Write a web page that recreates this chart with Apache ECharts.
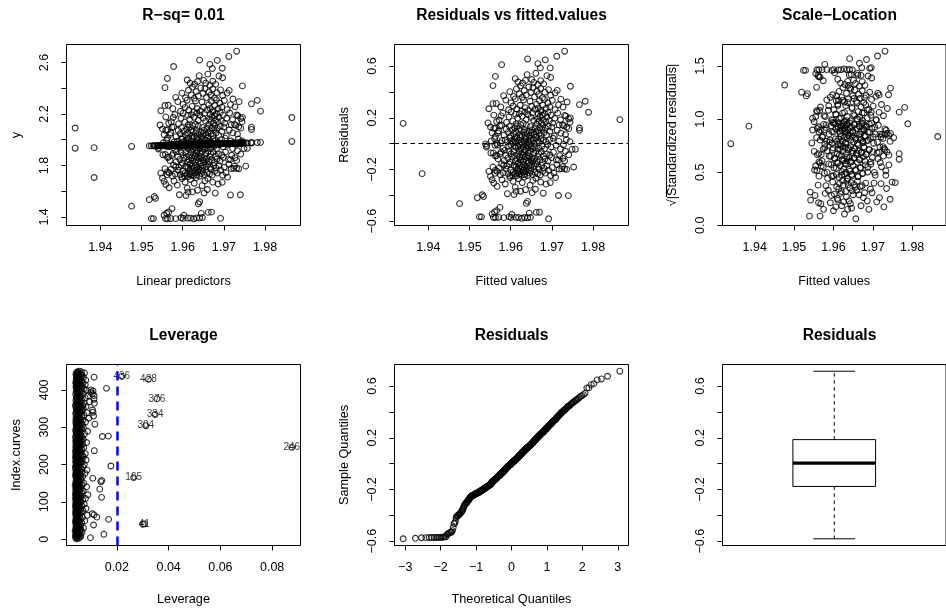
<!DOCTYPE html>
<html>
<head>
<meta charset="utf-8">
<script src="https://cdn.jsdelivr.net/npm/echarts@6/dist/echarts.min.js"></script>
<style>
  html, body { margin: 0; padding: 0; background: #fff; }
  #chart { width: 946px; height: 609px; }
</style>
</head>
<body>
<div id="chart"></div>
<script>
// Fitted values (linear predictors) of the model, one per observation
const fitted = [
  1.9524,1.9529,1.9558,1.9563,1.9571,1.9583,1.9596,1.9601,1.9612,1.9619,1.9627,1.9634,1.9641,1.9648,1.9692,
  1.9476,1.9555,1.9561,1.9566,1.9574,1.9638,1.9645,1.9662,1.9670,1.9603,
  1.9519,1.9531,1.9534,1.9641,1.9592,1.9608,1.9613,1.9624,1.9652,1.9679,1.9716,1.9740,1.9636,1.9660,
  1.9551,1.9555,1.9559,1.9567,1.9579,1.9587,1.9598,1.9606,1.9611,1.9619,1.9628,1.9633,1.9647,1.9654,1.9661,1.9673,1.9686,1.9696,1.9709,
  1.9547,1.9567,1.9575,1.9582,1.9589,1.9591,1.9594,1.9597,1.9600,1.9557,
  1.9604,1.9606,1.9608,1.9724,1.9611,1.9613,1.9614,1.9616,1.9617,1.9619,
  1.9620,1.9622,1.9623,1.9736,1.9626,1.9628,1.9629,1.9631,1.9632,1.9634,
  1.9635,1.9637,1.9638,1.9578,1.9641,1.9643,1.9644,1.9646,1.9648,1.9649,
  1.9651,1.9653,1.9731,1.9657,1.9659,1.9661,1.9563,1.9665,1.9667,1.9669,
  1.9672,1.9675,1.9678,1.9681,1.9684,1.9688,1.9692,1.9697,1.9701,1.9705,
  1.9712,1.9718,1.9726,1.9753,1.9583,1.9572,1.9562,1.9598,1.9618,1.9385,
  1.9552,1.9563,1.9569,1.9577,1.9584,1.9588,1.9593,1.9596,1.9599,1.9601,
  1.9603,1.9716,1.9607,1.9609,1.9612,1.9558,1.9615,1.9617,1.9619,1.9621,
  1.9622,1.9624,1.9626,1.9727,1.9629,1.9630,1.9632,1.9633,1.9635,1.9636,
  1.9638,1.9574,1.9641,1.9642,1.9644,1.9645,1.9647,1.9649,1.9741,1.9652,
  1.9654,1.9656,1.9658,1.9566,1.9662,1.9664,1.9666,1.9668,1.9671,1.9674,
  1.9677,1.9680,1.9683,1.9687,1.9691,1.9695,1.9699,1.9704,1.9711,1.9719,
  1.9733,1.9731,1.9585,
  1.9539,1.9542,1.9541,1.9749,1.9757,1.9553,1.9561,1.9568,1.9575,1.9581,
  1.9587,1.9592,1.9595,1.9598,1.9600,1.9602,1.9721,1.9606,1.9608,1.9610,
  1.9611,1.9613,1.9615,1.9566,1.9618,1.9620,1.9621,1.9623,1.9625,1.9626,
  1.9628,1.9735,1.9631,1.9633,1.9634,1.9636,1.9637,1.9639,1.9579,1.9642,
  1.9643,1.9645,1.9646,1.9648,1.9650,1.9744,1.9653,1.9655,1.9657,1.9659,
  1.9661,1.9562,1.9665,1.9668,1.9670,1.9673,1.9676,1.9679,1.9682,1.9686,
  1.9690,1.9694,1.9698,1.9703,1.9710,1.9717,1.9728,
  1.9551,1.9563,1.9555,1.9563,1.9733,1.9767,1.9767,1.9729,1.9571,1.9578,
  1.9584,1.9589,1.9594,1.9597,1.9600,1.9603,1.9718,1.9607,1.9610,1.9612,
  1.9614,1.9616,1.9569,1.9620,1.9622,1.9624,1.9626,1.9628,1.9736,1.9632,
  1.9634,1.9636,1.9638,1.9640,1.9559,1.9644,1.9646,1.9648,1.9650,1.9652,
  1.9726,1.9657,1.9659,1.9661,1.9663,1.9574,1.9667,1.9669,1.9671,1.9674,
  1.9676,1.9678,1.9681,1.9684,1.9687,1.9691,1.9695,1.9700,1.9706,1.9713,
  1.9722,1.9741,
  1.9339,1.9865,1.9545,1.9789,1.9745,1.9741,1.9559,1.9572,1.9581,1.9590,
  1.9596,1.9601,1.9605,1.9731,1.9613,1.9617,1.9621,1.9566,1.9628,1.9631,
  1.9635,1.9638,1.9642,1.9744,1.9649,1.9653,1.9656,1.9577,1.9663,1.9665,
  1.9667,1.9669,1.9671,1.9673,1.9675,1.9677,1.9679,1.9682,1.9685,1.9688,
  1.9691,1.9694,1.9698,1.9702,1.9707,1.9714,1.9721,1.9734,1.9612,
  1.9547,1.9557,1.9781,1.9767,1.9576,1.9588,1.9595,1.9601,1.9606,1.9611,
  1.9615,1.9737,1.9623,1.9627,1.9631,1.9635,1.9565,1.9643,1.9647,1.9651,
  1.9722,1.9659,1.9663,1.9667,1.9670,1.9674,1.9678,1.9682,1.9686,1.9690,
  1.9695,1.9701,1.9708,1.9716,1.9727,
  1.9557,1.9644,1.9692,1.9708,1.9745,1.9583,1.9598,1.9607,1.9614,1.9621,
  1.9628,1.9633,1.9638,1.9649,1.9654,1.9658,1.9664,1.9668,1.9673,1.9677,
  1.9683,1.9697,1.9713,1.9624,
  1.9618,1.9666,1.9640,1.9688,1.9563,1.9629,1.9651,1.9673,1.9697,1.9611,1.9656,1.9680,1.9636,1.9661,
  1.9578,1.9666,1.9672,1.9696,
  1.9641,1.9684,1.9712,1.9731
];

// Residuals (observed minus fitted), same order as fitted
const residuals = [
  -0.566,-0.566,-0.569,-0.571,-0.570,-0.572,-0.566,-0.571,-0.570,-0.571,-0.577,-0.571,-0.573,-0.570,-0.581,
  -0.464,-0.543,-0.528,-0.518,-0.493,-0.462,-0.537,-0.531,-0.530,-0.548,
  -0.418,-0.395,-0.409,-0.446,-0.387,-0.394,-0.369,-0.368,-0.379,-0.383,-0.401,-0.402,-0.356,-0.353,
  -0.253,-0.279,-0.304,-0.330,-0.279,-0.312,-0.262,-0.291,-0.338,-0.271,-0.301,-0.258,-0.322,-0.284,-0.267,-0.297,-0.313,-0.301,-0.262,
  -0.214,-0.214,-0.240,-0.225,-0.196,-0.172,-0.232,-0.158,-0.205,-0.181,
  -0.243,-0.219,-0.166,-0.195,-0.229,-0.176,-0.248,-0.208,-0.157,-0.187,
  -0.236,-0.213,-0.168,-0.199,-0.244,-0.183,-0.222,-0.161,-0.204,-0.238,
  -0.177,-0.215,-0.192,-0.155,-0.247,-0.201,-0.172,-0.228,-0.186,-0.211,
  -0.163,-0.239,-0.195,-0.174,-0.221,-0.158,-0.206,-0.233,-0.181,-0.197,
  -0.242,-0.168,-0.214,-0.189,-0.228,-0.171,-0.205,-0.246,-0.184,-0.227,
  -0.162,-0.196,-0.178,-0.181,-0.167,-0.187,-0.229,-0.249,-0.224,-0.232,
  -0.072,-0.095,-0.118,-0.064,-0.131,-0.089,-0.112,-0.057,-0.141,-0.078,
  -0.104,-0.126,-0.061,-0.093,-0.137,-0.071,-0.116,-0.084,-0.148,-0.059,
  -0.102,-0.129,-0.075,-0.113,-0.091,-0.143,-0.066,-0.121,-0.098,-0.052,
  -0.134,-0.081,-0.109,-0.069,-0.146,-0.094,-0.058,-0.123,-0.086,-0.107,
  -0.139,-0.073,-0.118,-0.092,-0.056,-0.131,-0.101,-0.077,-0.124,-0.063,
  -0.145,-0.097,-0.118,-0.079,-0.135,-0.088,-0.108,-0.066,-0.124,-0.093,
  -0.059,-0.134,-0.052,
  -0.002,-0.015,-0.026,-0.044,-0.043,0.021,0.038,-0.011,0.006,-0.037,
  0.029,0.012,-0.021,0.044,-0.005,0.023,-0.041,0.008,0.035,-0.017,
  0.015,-0.031,0.041,0.002,-0.024,0.027,-0.009,0.047,-0.038,0.013,
  -0.003,0.032,-0.027,0.019,-0.046,0.006,0.039,-0.014,0.024,-0.033,
  0.011,0.043,-0.007,0.028,-0.022,0.016,-0.039,0.034,0.001,-0.029,
  0.046,-0.012,0.022,-0.035,0.009,0.037,-0.018,0.025,-0.042,0.014,
  -0.006,0.031,-0.025,0.042,-0.013,0.018,-0.008,
  0.129,0.121,0.083,0.057,0.070,0.121,0.103,0.139,0.098,0.142,
  0.066,0.113,0.087,0.134,0.058,0.106,0.145,0.077,0.121,0.092,
  0.054,0.137,0.083,0.114,0.068,0.148,0.099,0.062,0.127,0.088,
  0.109,0.051,0.141,0.074,0.118,0.096,0.061,0.131,0.084,0.107,
  0.146,0.071,0.123,0.093,0.056,0.138,0.102,0.079,0.126,0.064,
  0.111,0.143,0.086,0.119,0.067,0.135,0.095,0.128,0.059,0.104,
  0.081,0.116,
  0.157,0.186,0.160,0.243,0.199,0.191,0.221,0.183,0.238,0.164,
  0.207,0.246,0.176,0.219,0.153,0.198,0.232,0.171,0.212,0.157,
  0.244,0.188,0.226,0.166,0.203,0.239,0.179,0.215,0.152,0.194,
  0.229,0.173,0.208,0.247,0.161,0.219,0.186,0.234,0.168,0.205,
  0.242,0.177,0.221,0.159,0.196,0.236,0.184,0.213,0.228,
  0.270,0.310,0.328,0.302,0.284,0.337,0.262,0.315,0.291,0.346,
  0.268,0.322,0.297,0.253,0.338,0.279,0.311,0.257,0.328,0.289,
  0.344,0.266,0.305,0.276,0.331,0.259,0.298,0.342,0.272,0.316,
  0.285,0.335,0.263,0.301,0.283,
  0.449,0.438,0.418,0.392,0.444,0.371,0.402,0.365,0.423,0.386,
  0.359,0.411,0.377,0.396,0.432,0.362,0.405,0.381,0.427,0.356,
  0.398,0.374,0.412,0.447,
  0.477,0.457,0.534,0.526,0.520,0.468,0.496,0.487,0.512,0.503,0.474,0.462,0.489,0.544,
  0.611,0.619,0.586,0.586,
  0.655,0.648,0.676,0.715
];

// Hat values (leverage) by observation index 1..450
const leverage = [
  .0045,.0052,.0041,.0098,.0057,.0043,.0049,.0061,.0040,.0047,
  .0054,.0044,.0150,.0048,.0059,.0042,.0051,.0046,.0066,.0043,
  .0050,.0039,.0056,.0045,.0062,.0048,.0041,.0053,.0047,.0071,
  .0044,.0058,.0049,.0042,.0055,.0046,.0060,.0110,.0043,.0300,
  .0306,.0051,.0045,.0064,.0040,.0049,.0057,.0043,.0076,.0047,
  .0053,.0041,.0168,.0048,.0059,.0044,.0050,.0067,.0123,.0046,
  .0055,.0042,.0049,.0086,.0112,.0045,.0052,.0105,.0040,.0058,
  .0047,.0063,.0043,.0051,.0046,.0069,.0041,.0054,.0048,.0060,
  .0044,.0081,.0050,.0042,.0057,.0046,.0053,.0040,.0065,.0049,
  .0043,.0056,.0047,.0074,.0041,.0052,.0045,.0061,.0048,.0054,
  .0042,.0059,.0046,.0050,.0068,.0044,.0055,.0040,.0079,.0048,
  .0053,.0141,.0045,.0062,.0041,.0049,.0057,.0043,.0088,.0047,
  .0051,.0040,.0058,.0046,.0064,.0043,.0052,.0048,.0070,.0044,
  .0055,.0041,.0049,.0134,.0046,.0060,.0042,.0053,.0047,.0083,
  .0044,.0056,.0050,.0039,.0066,.0048,.0043,.0058,.0045,.0072,
  .0052,.0041,.0049,.0138,.0046,.0055,.0142,.0063,.0043,.0050,
  .0047,.0059,.0107,.0044,.0265,.0054,.0041,.0068,.0048,.0052,
  .0045,.0061,.0040,.0056,.0049,.0077,.0043,.0053,.0046,.0064,
  .0050,.0042,.0058,.0047,.0085,.0044,.0055,.0041,.0062,.0048,
  .0053,.0045,.0069,.0040,.0051,.0177,.0046,.0057,.0043,.0074,
  .0049,.0044,.0060,.0047,.0054,.0041,.0066,.0050,.0045,.0058,
  .0042,.0081,.0048,.0053,.0044,.0063,.0046,.0056,.0040,.0071,
  .0051,.0045,.0059,.0043,.0067,.0049,.0054,.0041,.0078,.0047,
  .0056,.0044,.0062,.0048,.0052,.0040,.0113,.0058,.0045,.0065,
  .0050,.0043,.0057,.0046,.0072,.0876,.0041,.0055,.0048,.0061,
  .0044,.0053,.0047,.0068,.0042,.0058,.0050,.0045,.0083,.0049,
  .0054,.0041,.0063,.0046,.0057,.0043,.0070,.0051,.0048,.0060,
  .0045,.0055,.0040,.0066,.0144,.0167,.0049,.0059,.0043,.0052,
  .0047,.0075,.0044,.0056,.0050,.0062,.0042,.0053,.0087,.0046,
  .0058,.0041,.0049,.0064,.0045,.0054,.0048,.0071,.0043,.0060,
  .0051,.0046,.0057,.0312,.0044,.0067,.0050,.0115,.0042,.0055,
  .0048,.0063,.0045,.0079,.0052,.0041,.0058,.0047,.0069,.0053,
  .0044,.0060,.0049,.0092,.0042,.0056,.0046,.0065,.0051,.0110,
  .0045,.0073,.0048,.0348,.0054,.0041,.0061,.0050,.0084,.0108,
  .0043,.0057,.0047,.0066,.0052,.0106,.0044,.0059,.0049,.0070,
  .0055,.0042,.0063,.0046,.0081,.0051,.0045,.0068,.0040,.0058,
  .0048,.0053,.0074,.0113,.0044,.0060,.0050,.0095,.0046,.0057,
  .0042,.0065,.0052,.0047,.0112,.0355,.0055,.0043,.0077,.0049,
  .0061,.0045,.0054,.0088,.0112,.0048,.0058,.0041,.0070,.0106,
  .0051,.0046,.0099,.0056,.0043,.0064,.0108,.0049,.0082,.0100,
  .0053,.0044,.0073,.0160,.0047,.0059,.0042,.0067,.0050,.0056,
  .0045,.0062,.0048,.0078,.0043,.0054,.0046,.0069,.0051,.0041,
  .0057,.0047,.0065,.0044,.0052,.0080,.0049,.0322,.0055,.0043,
  .0061,.0046,.0071,.0112,.0050,.0219,.0058,.0044,.0066,.0048,
  .0053,.0042,.0060,.0047,.0075,.0051,.0045,.0063,.0049,.0056
];

// Observations annotated on the leverage plot, and the leverage cut-off
const leverageLabels = [41, 165, 246, 304, 334, 376, 428, 436];
const leverageCutoff = 0.0207;

// Residual standard error and R-squared of the fit
const residualSE = 0.266;
const rSquared = 0.01;

// Axis ticks and the subset of ticks that carry a label
const fittedTicks = [1.94, 1.95, 1.96, 1.97, 1.98];
const yTicks = [1.4, 1.6, 1.8, 2.0, 2.2, 2.4, 2.6];
const yTickLabels = [1.4, 1.8, 2.2, 2.6];
const residTicks = [-0.6, -0.4, -0.2, 0, 0.2, 0.4, 0.6];
const residTickLabels = [-0.6, -0.2, 0.2, 0.6];
const rootTicks = [0, 0.5, 1, 1.5];
const leverageTicks = [0.02, 0.04, 0.06, 0.08];
const indexTicks = [0, 100, 200, 300, 400];
const quantileTicks = [-3, -2, -1, 0, 1, 2, 3];

const panelTitles = ['R\u2212sq= ' + rSquared.toFixed(2), 'Residuals vs fitted.values', 'Scale\u2212Location',
                     'Leverage', 'Residuals', 'Residuals'];

// ---------- derived quantities ----------
const FONT = '"Liberation Sans", Arial, Helvetica, sans-serif';
const n = fitted.length;

function qnorm(p) {
  const a = [-3.969683028665376e+01, 2.209460984245205e+02, -2.759285104469687e+02, 1.383577518672690e+02, -3.066479806614716e+01, 2.506628277459239e+00];
  const b = [-5.447609879822406e+01, 1.615858368580409e+02, -1.556989798598866e+02, 6.680131188771972e+01, -1.328068155288572e+01];
  const c = [-7.784894002430293e-03, -3.223964580411365e-01, -2.400758277161838e+00, -2.549732539343734e+00, 4.374664141464968e+00, 2.938163982698783e+00];
  const d = [7.784695709041462e-03, 3.224671290700398e-01, 2.445134137142996e+00, 3.754408661907416e+00];
  const lo = 0.02425;
  let q, r;
  if (p < lo) {
    q = Math.sqrt(-2 * Math.log(p));
    return (((((c[0]*q+c[1])*q+c[2])*q+c[3])*q+c[4])*q+c[5]) / ((((d[0]*q+d[1])*q+d[2])*q+d[3])*q+1);
  }
  if (p > 1 - lo) {
    q = Math.sqrt(-2 * Math.log(1 - p));
    return -(((((c[0]*q+c[1])*q+c[2])*q+c[3])*q+c[4])*q+c[5]) / ((((d[0]*q+d[1])*q+d[2])*q+d[3])*q+1);
  }
  q = p - 0.5; r = q * q;
  return (((((a[0]*r+a[1])*r+a[2])*r+a[3])*r+a[4])*r+a[5])*q / (((((b[0]*r+b[1])*r+b[2])*r+b[3])*r+b[4])*r+1);
}

// R-style axis range: data range widened by 4% on each side
function rRange(values) {
  let lo = Infinity, hi = -Infinity;
  for (const v of values) { if (v < lo) lo = v; if (v > hi) hi = v; }
  const pad = (hi - lo) * 0.04;
  return [lo - pad, hi + pad];
}

function fivenum(s) {
  const m = s.length;
  const n4 = Math.floor((m + 3) / 2) / 2;
  const d = [1, n4, (m + 1) / 2, m + 1 - n4, m];
  return d.map(k => 0.5 * (s[Math.floor(k) - 1] + s[Math.ceil(k) - 1]));
}

const observed = fitted.map((f, i) => f + residuals[i]);
const rootStd = residuals.map(r => Math.sqrt(Math.abs(r) / residualSE));
const sortedRes = residuals.slice().sort((x, y) => x - y);
const theoretical = sortedRes.map((_, i) => qnorm((i + 0.5) / n));
const obsIndex = leverage.map((_, i) => i + 1);

const fn = fivenum(sortedRes);
const iqr = fn[3] - fn[1];
const whiskLo = Math.min(...sortedRes.filter(v => v >= fn[1] - 1.5 * iqr));
const whiskHi = Math.max(...sortedRes.filter(v => v <= fn[3] + 1.5 * iqr));
const boxStats = [1, whiskLo, fn[1], fn[2], fn[3], whiskHi];

// ---------- layout ----------
const PANEL_W = 234, PANEL_H = 181;
const lefts = [66.5, 394.5, 722.5];
const tops = [44.5, 364.5];
const titleY = [15.5, 335.5];

const grids = [];
for (let r = 0; r < 2; r++) for (let c = 0; c < 3; c++) {
  grids.push({ left: lefts[c], top: tops[r], width: PANEL_W, height: PANEL_H,
               show: true, borderColor: '#000', borderWidth: 1, backgroundColor: 'transparent' });
}

function axis(gridIndex, range, ticks, labels, digits, name, gap, isY) {
  return {
    type: 'value', gridIndex, min: range[0], max: range[1],
    axisLine: { show: false, onZero: false }, splitLine: { show: false },
    axisTick: { show: true, inside: false, length: 5, lineStyle: { color: '#000', width: 1 }, customValues: ticks },
    axisLabel: {
      show: true, customValues: labels, rotate: isY ? 90 : 0, margin: isY ? 15 : 16,
      formatter: v => Number(v).toFixed(digits).replace('-', '\u2212'),
      color: '#000', fontSize: 12.5, fontFamily: FONT
    },
    name, nameLocation: 'middle', nameGap: gap, nameRotate: isY ? 90 : 0,
    nameTextStyle: { color: '#000', fontSize: 12.7, fontFamily: FONT }
  };
}

const resRange = rRange(residuals);

const xAxes = [
  axis(0, rRange(fitted), fittedTicks, fittedTicks, 2, 'Linear predictors', 49, false),
  axis(1, rRange(fitted), fittedTicks, fittedTicks, 2, 'Fitted values', 49, false),
  axis(2, rRange(fitted), fittedTicks, fittedTicks, 2, 'Fitted values', 49, false),
  axis(3, rRange(leverage), leverageTicks, leverageTicks, 2, 'Leverage', 47, false),
  axis(4, rRange(theoretical), quantileTicks, quantileTicks, 0, 'Theoretical Quantiles', 47, false),
  { type: 'value', gridIndex: 5, min: 0.5, max: 1.5, show: false, axisLine: { onZero: false } }
];
const yAxes = [
  axis(0, rRange(observed.concat(fitted)), yTicks, yTickLabels, 1, 'y', 44, true),
  axis(1, resRange, residTicks, residTickLabels, 1, 'Residuals', 44, true),
  axis(2, rRange(rootStd), rootTicks, rootTicks, 1, '\u221A|Standardized residuals|', 44, true),
  axis(3, rRange(obsIndex), indexTicks, indexTicks, 0, 'Index.curves', 44, true),
  axis(4, resRange, residTicks, residTickLabels, 1, 'Sample Quantiles', 44, true),
  axis(5, resRange, residTicks, residTickLabels, 1, '', 44, true)
];

const circle = {
  type: 'scatter', symbol: 'circle', symbolSize: 5.8, silent: true,
  itemStyle: { color: 'rgba(0,0,0,0)', borderColor: '#000', borderWidth: 1.1 }
};

const series = [
  Object.assign({}, circle, { xAxisIndex: 0, yAxisIndex: 0, data: fitted.map((f, i) => [f, observed[i]]) }),
  Object.assign({}, circle, { xAxisIndex: 0, yAxisIndex: 0, data: fitted.map(f => [f, f]) }),
  Object.assign({}, circle, {
    xAxisIndex: 1, yAxisIndex: 1, data: fitted.map((f, i) => [f, residuals[i]]),
    markLine: { silent: true, symbol: 'none', label: { show: false },
                lineStyle: { color: '#000', width: 1, type: [4.5, 3.5] }, data: [{ yAxis: 0 }] }
  }),
  Object.assign({}, circle, { xAxisIndex: 2, yAxisIndex: 2, data: fitted.map((f, i) => [f, rootStd[i]]) }),
  Object.assign({}, circle, {
    xAxisIndex: 3, yAxisIndex: 3,
    data: leverage.map((h, i) => leverageLabels.includes(i + 1)
      ? { value: [h, i + 1], label: { show: true } }
      : [h, i + 1]),
    label: { show: false, position: 'inside', formatter: p => String(p.value[1]),
             fontSize: 10, color: '#000', fontFamily: FONT },
    markLine: { silent: true, symbol: 'none', label: { show: false },
                lineStyle: { color: '#0000ff', width: 2.5, type: [9, 6] }, data: [{ xAxis: leverageCutoff }] }
  }),
  Object.assign({}, circle, { xAxisIndex: 4, yAxisIndex: 4, data: theoretical.map((t, i) => [t, sortedRes[i]]) }),
  {
    type: 'custom', xAxisIndex: 5, yAxisIndex: 5, silent: true,
    data: [boxStats],
    renderItem(params, api) {
      const x = api.value(0);
      const lo = api.value(1), q1 = api.value(2), md = api.value(3), q3 = api.value(4), hi = api.value(5);
      const half = 0.185, staple = 0.0934;
      const p = (vx, vy) => api.coord([vx, vy]);
      const seg = (x1, y1, x2, y2, extra) => {
        const a = p(x1, y1), b = p(x2, y2);
        return { type: 'line', shape: { x1: a[0], y1: a[1], x2: b[0], y2: b[1] },
                 style: Object.assign({ stroke: '#000', lineWidth: 1 }, extra || {}) };
      };
      const tl = p(x - half, q3), br = p(x + half, q1);
      return {
        type: 'group',
        children: [
          seg(x, q3, x, hi, { lineDash: [3.5, 3.5] }),
          seg(x, q1, x, lo, { lineDash: [3.5, 3.5] }),
          seg(x - staple, hi, x + staple, hi),
          seg(x - staple, lo, x + staple, lo),
          { type: 'rect', shape: { x: tl[0], y: tl[1], width: br[0] - tl[0], height: br[1] - tl[1] },
            style: { fill: '#fff', stroke: '#000', lineWidth: 1 } },
          seg(x - half, md, x + half, md, { lineWidth: 3.2 })
        ]
      };
    }
  }
];

const graphic = panelTitles.map((t, i) => ({
  type: 'text', silent: true,
  x: lefts[i % 3] + PANEL_W / 2, y: titleY[Math.floor(i / 3)],
  style: { text: t, fill: '#000', font: 'bold 15.6px ' + FONT,
           textAlign: 'center', textVerticalAlign: 'middle', align: 'center', verticalAlign: 'middle' }
}));
// overbar of the square-root sign in the scale-location axis title
graphic.push({ type: 'line', silent: true,
  shape: { x1: 666.5, y1: 66, x2: 666.5, y2: 197 }, style: { stroke: '#000', lineWidth: 1 } });

const chart = echarts.init(document.getElementById('chart'), null, { renderer: 'canvas' });
chart.setOption({
  backgroundColor: '#fff',
  animation: false,
  grid: grids,
  xAxis: xAxes,
  yAxis: yAxes,
  series,
  graphic
});
</script>
</body>
</html>
